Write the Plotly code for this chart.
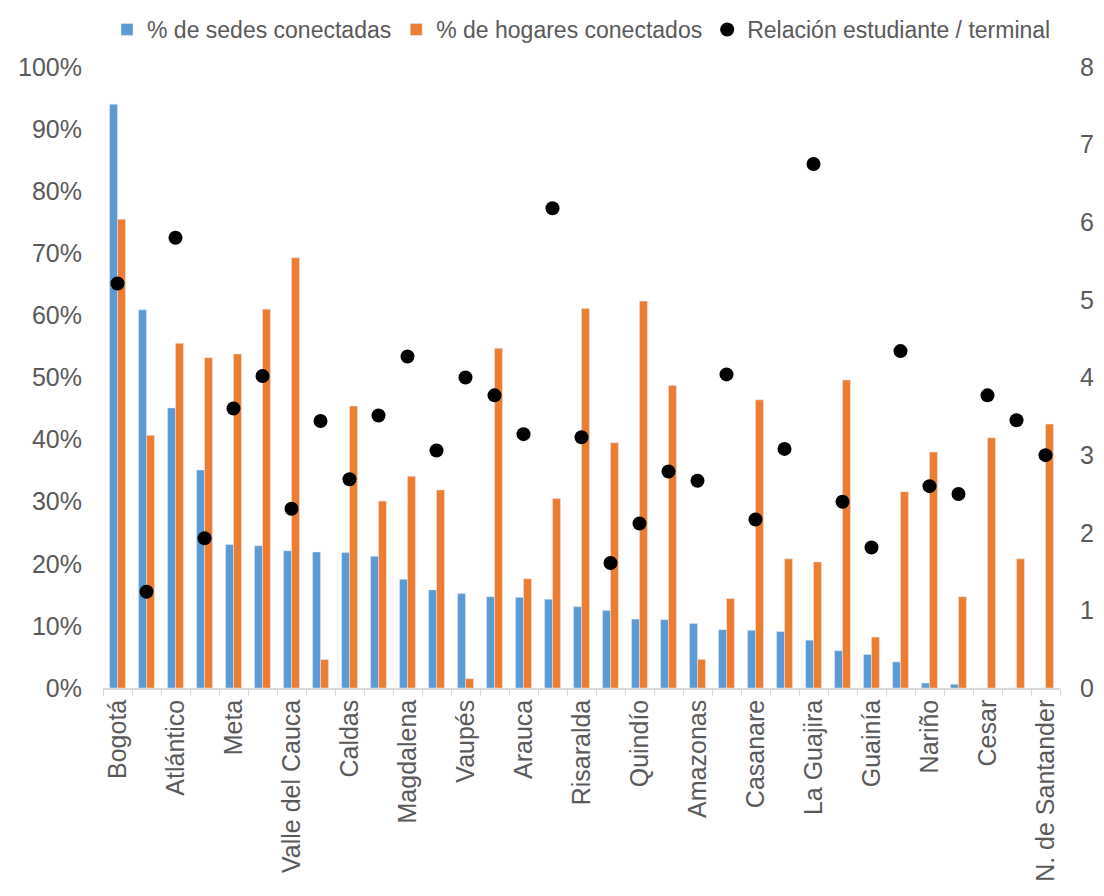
import plotly.graph_objects as go

departamentos = [
    "Bogotá", "San Andrés", "Atlántico", "Santander", "Meta", "Antioquia",
    "Valle del Cauca", "Guaviare", "Caldas", "Boyacá", "Magdalena", "Tolima",
    "Vaupés", "Cundinamarca", "Arauca", "Huila", "Risaralda", "Putumayo",
    "Quindío", "Sucre", "Amazonas", "Caquetá", "Casanare", "Córdoba",
    "La Guajira", "Bolívar", "Guainía", "Cauca", "Nariño", "Chocó",
    "Cesar", "Vichada", "N. de Santander",
]

sedes_conectadas = [
    94.0, 60.9, 45.1, 35.1, 23.1, 22.9, 22.1, 21.9, 21.8, 21.2, 17.5, 15.8,
    15.2, 14.7, 14.6, 14.3, 13.1, 12.5, 11.1, 11.0, 10.4, 9.4, 9.3, 9.1,
    7.7, 6.0, 5.4, 4.2, 0.8, 0.6, 0.0, 0.0, 0.0,
]

hogares_conectados = [
    75.5, 40.7, 55.5, 53.2, 53.8, 61.0, 69.3, 4.6, 45.4, 30.1, 34.1, 31.9,
    1.5, 54.7, 17.6, 30.5, 61.1, 39.5, 62.3, 48.7, 4.6, 14.4, 46.4, 20.8,
    20.3, 49.6, 8.2, 31.6, 38.0, 14.7, 40.3, 20.8, 42.5,
]

relacion_estudiante_terminal = [
    5.21, 1.24, 5.80, 1.93, 3.60, 4.02, 2.31, 3.44, 2.69, 3.51, 4.27, 3.06,
    4.00, 3.77, 3.27, 6.18, 3.23, 1.61, 2.12, 2.79, 2.67, 4.04, 2.17, 3.08,
    6.75, 2.40, 1.81, 4.34, 2.60, 2.50, 3.77, 3.45, 3.00,
]

etiquetas_visibles = [d if i % 2 == 0 else "" for i, d in enumerate(departamentos)]

FONT = "Liberation Sans, Arial, sans-serif"
GRAY = "#595959"
TICK_SIZE = 25

fig = go.Figure()
fig.add_trace(go.Bar(
    x=departamentos, y=sedes_conectadas, name="% de sedes conectadas",
    marker_color="#5B9BD5", yaxis="y",
))
fig.add_trace(go.Bar(
    x=departamentos, y=hogares_conectados, name="% de hogares conectados",
    marker_color="#ED7D31", yaxis="y",
))
fig.add_trace(go.Scatter(
    x=departamentos, y=relacion_estudiante_terminal, mode="markers",
    name="Relación estudiante / terminal",
    marker=dict(color="black", size=14), yaxis="y2",
))

# page body has an 8px margin, so the figure is sized to fit the window
fig.update_layout(
    width=1088, height=880, autosize=False,
    margin=dict(l=95, r=36, t=59, b=200, autoexpand=False),
    paper_bgcolor="white", plot_bgcolor="white",
    font=dict(family=FONT, color=GRAY, size=TICK_SIZE),
    barmode="group", bargap=0.45, bargroupgap=0,
    showlegend=True,
    legend=dict(
        orientation="h", x=0.5, xanchor="center",
        yref="container", y=1.0, yanchor="top",
        font=dict(size=23, color=GRAY), bgcolor="rgba(0,0,0,0)",
        itemwidth=30, tracegroupgap=0,
    ),
    xaxis=dict(
        type="category", tickvals=departamentos, ticktext=etiquetas_visibles,
        range=[-0.5, len(departamentos) - 0.5],
        tickangle=-90, tickson="boundaries", ticks="outside", ticklen=6,
        tickcolor="#D9D9D9", showline=True, linecolor="#D9D9D9", linewidth=1.5,
        showgrid=False, tickfont=dict(size=TICK_SIZE, color=GRAY),
        automargin=False,
    ),
    yaxis=dict(
        range=[0, 100], dtick=10, ticksuffix="%", showgrid=False,
        zeroline=False, showline=False,
        tickfont=dict(size=TICK_SIZE, color=GRAY),
        ticklabelstandoff=20, automargin=False,
    ),
    yaxis2=dict(
        range=[0, 8], dtick=1, overlaying="y", side="right", showgrid=False,
        zeroline=False, showline=False,
        tickfont=dict(size=TICK_SIZE, color=GRAY),
        ticklabelstandoff=19, automargin=False,
    ),
)

fig.write_html("out.html")
